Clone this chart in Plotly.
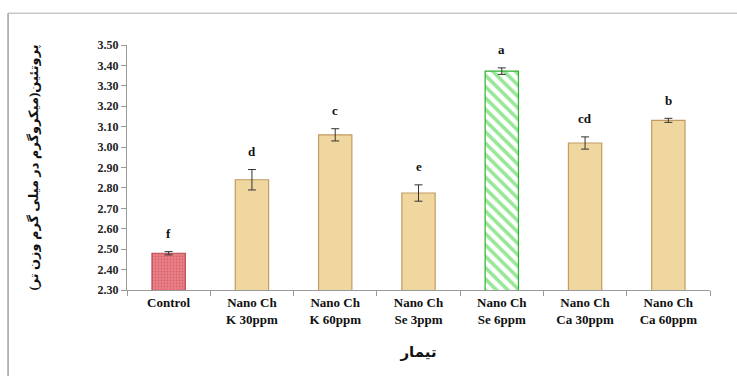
import plotly.graph_objects as go

categories = ["Control", "Nano Ch<br>K 30ppm", "Nano Ch<br>K 60ppm", "Nano Ch<br>Se 3ppm",
              "Nano Ch<br>Se 6ppm", "Nano Ch<br>Ca 30ppm", "Nano Ch<br>Ca 60ppm"]
protein = [2.48, 2.84, 3.06, 2.775, 3.372, 3.02, 3.131]
errors = [0.008, 0.05, 0.03, 0.04, 0.016, 0.03, 0.01]
letters = ["f", "d", "c", "e", "a", "cd", "b"]
y_ticks = [2.30, 2.40, 2.50, 2.60, 2.70, 2.80, 2.90, 3.00, 3.10, 3.20, 3.30, 3.40, 3.50]

bg_colors = ["#e98088", "#f0d7a0", "#f0d7a0", "#f0d7a0", "#ffffff", "#f0d7a0", "#f0d7a0"]
fg_colors = ["#c44850", "#e6c88c", "#e6c88c", "#e6c88c", "#2fd02f", "#e6c88c", "#e6c88c"]
line_colors = ["#b84a52", "#c09c62", "#c09c62", "#c09c62", "#2fb02f", "#c09c62", "#c09c62"]
pat_shapes = [".", "", "", "", "\\", "", ""]
pat_sizes = [3, 8, 8, 8, 8, 8, 8]
pat_solid = [0.3, 0.3, 0.3, 0.3, 0.45, 0.3, 0.3]

FONT = "Liberation Serif, DejaVu Serif, DejaVu Sans"

fig = go.Figure()
for i in range(len(categories)):
    fig.add_trace(go.Bar(
        x=[categories[i]], y=[protein[i]], width=0.4,
        marker=dict(color=bg_colors[i], line=dict(color=line_colors[i], width=1.2),
                    pattern=dict(shape=pat_shapes[i], fgcolor=fg_colors[i],
                                 size=pat_sizes[i], solidity=pat_solid[i],
                                 fillmode="overlay")),
        error_y=dict(type="data", array=[errors[i]], visible=True, color="#333333",
                     thickness=1, width=4),
    ))

for c, v, e, t in zip(categories, protein, errors, letters):
    fig.add_annotation(x=c, y=v + e, text="<b>" + t + "</b>", showarrow=False,
                       yanchor="middle", yshift=18,
                       font=dict(family=FONT, size=13, color="#111111"))

# outer frame (top and left)
fig.add_shape(type="line", xref="paper", yref="paper", x0=-0.204, x1=1.05, y0=1.13, y1=1.13,
              line=dict(color="#c8c8c8", width=1.5))
fig.add_shape(type="line", xref="paper", yref="paper", x0=-0.204, x1=-0.204, y0=1.13, y1=-0.36,
              line=dict(color="#a0a0a0", width=1.5))

fig.update_layout(
    width=737, height=376,
    margin=dict(l=127, r=27, t=45, b=86, autoexpand=False),
    paper_bgcolor="white", plot_bgcolor="white",
    showlegend=False, barmode="overlay",
    font=dict(family=FONT, color="#111111"),
)
fig.update_yaxes(
    range=[2.30, 3.50], tickvals=y_ticks, ticktext=[f"<b>{v:.2f}</b>" for v in y_ticks],
    showgrid=False, zeroline=False, showline=True, linecolor="#9a9a9a", linewidth=1,
    ticks="outside", ticklen=5, tickcolor="#9a9a9a", automargin=False,
    tickfont=dict(family=FONT, size=12, color="#222222"),
    title=dict(text="<b>پروتئین(میکروگرم در میلی گرم وزن تر)</b>", standoff=56,
               font=dict(family=FONT, size=13, color="#111111")),
)
fig.update_xaxes(
    showgrid=False, showline=True, linecolor="#9a9a9a", linewidth=1,
    ticks="outside", ticklen=5, tickcolor="#9a9a9a", tickson="boundaries",
    tickfont=dict(family=FONT, size=13, color="#111111"), automargin=False,
    tickangle=0, ticklabelstandoff=0,
    title=dict(text="<b>تیمار</b>", standoff=20,
               font=dict(family=FONT, size=15, color="#111111")),
)
fig.update_xaxes(ticktext=["<b>" + c + "</b>" for c in categories], tickvals=categories)

fig.write_html("out.html", config={"displayModeBar": False},
               post_script="document.body.style.margin='0';")
